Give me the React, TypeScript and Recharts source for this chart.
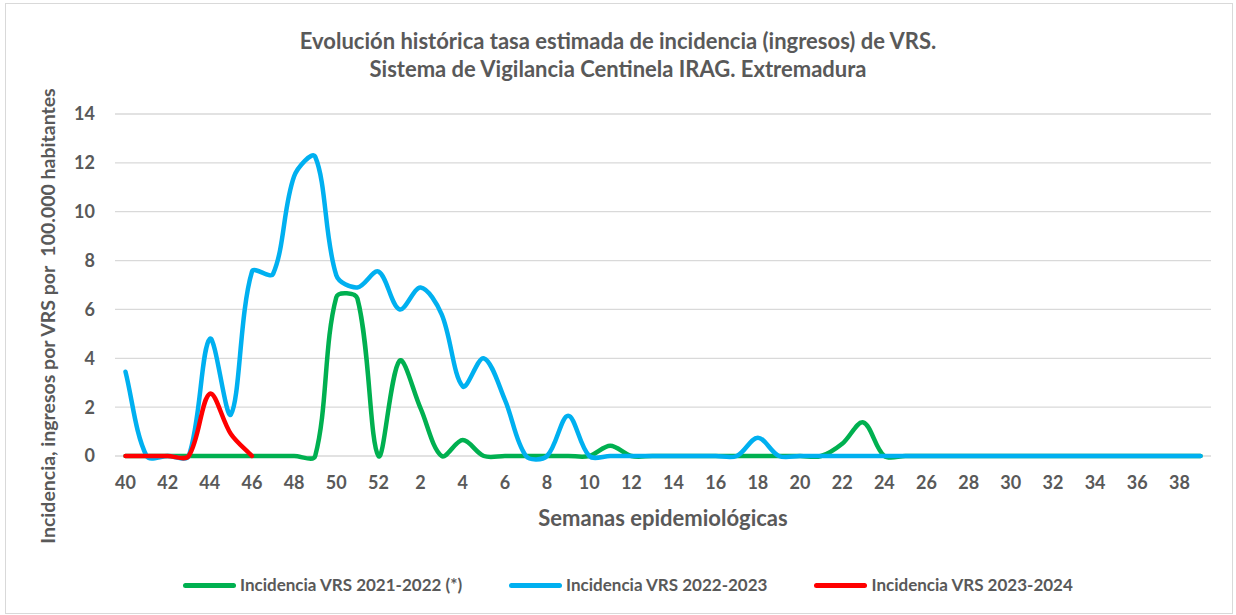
import { CartesianGrid, Line, LineChart, XAxis, YAxis } from "recharts";

const weeks = [
  "40", "41", "42", "43", "44", "45", "46", "47", "48", "49", "50", "51", "52",
  "1", "2", "3", "4", "5", "6", "7", "8", "9", "10", "11", "12", "13", "14", "15",
  "16", "17", "18", "19", "20", "21", "22", "23", "24", "25", "26", "27", "28",
  "29", "30", "31", "32", "33", "34", "35", "36", "37", "38", "39",
];

// Incidencia VRS 2021-2022 (*)
const vrs2122 = [
  0, 0, 0, 0, 0, 0, 0, 0, 0, 0, 6.5, 6.45, 0,
  3.9, 1.95, 0, 0.65, 0, 0, 0, 0, 0, 0, 0.42, 0, 0, 0, 0,
  0, 0, 0, 0, 0, 0, 0.5, 1.38, 0, 0, 0, 0, 0,
  0, 0, 0, 0, 0, 0, 0, 0, 0, 0, 0,
];

// Incidencia VRS 2022-2023
const vrs2223 = [
  3.45, 0, 0, 0, 4.8, 1.7, 7.55, 7.45, 11.45, 12.25, 7.4, 6.9, 7.55,
  6.0, 6.9, 5.8, 2.85, 4.0, 2.3, 0, 0, 1.65, 0, 0, 0, 0, 0, 0,
  0, 0, 0.75, 0, 0, 0, 0, 0, 0, 0, 0, 0, 0,
  0, 0, 0, 0, 0, 0, 0, 0, 0, 0, 0,
];

// Incidencia VRS 2023-2024 (season in progress)
const vrs2324 = [0, 0, 0, 0, 2.55, 0.9, 0];

const yTicks = [0, 2, 4, 6, 8, 10, 12, 14];

const series = [
  { key: "s2122", name: "Incidencia VRS 2021-2022 (*)", color: "#00b050" },
  { key: "s2223", name: "Incidencia VRS 2022-2023", color: "#00b0f0" },
  { key: "s2324", name: "Incidencia VRS 2023-2024", color: "#ff0000" },
];

const data = weeks.map((week, i) => ({
  week,
  s2122: vrs2122[i],
  s2223: vrs2223[i],
  s2324: vrs2324[i] ?? null,
}));

// Excel-like smoothing: bezier through the points, tangents weighted by segment length
const excelCurve = (ctx: any) => {
  let pts: [number, number][] = [];
  const dist = (a: [number, number], b: [number, number]) => Math.hypot(b[0] - a[0], b[1] - a[1]);
  return {
    areaStart() {},
    areaEnd() {},
    lineStart() {
      pts = [];
    },
    point(x: number, y: number) {
      pts.push([+x, +y]);
    },
    lineEnd() {
      if (!pts.length) return;
      ctx.moveTo(pts[0][0], pts[0][1]);
      for (let i = 0; i < pts.length - 1; i++) {
        const p0 = pts[Math.max(i - 1, 0)];
        const p1 = pts[i];
        const p2 = pts[i + 1];
        const p3 = pts[Math.min(i + 2, pts.length - 1)];
        const d01 = dist(p0, p1);
        const d12 = dist(p1, p2);
        const d23 = dist(p2, p3);
        const a = d01 + d12 > 0 ? d12 / (d01 + d12) / 3 : 0;
        const b = d12 + d23 > 0 ? d12 / (d12 + d23) / 3 : 0;
        ctx.bezierCurveTo(
          p1[0] + (p2[0] - p0[0]) * a,
          p1[1] + (p2[1] - p0[1]) * a,
          p2[0] - (p3[0] - p1[0]) * b,
          p2[1] - (p3[1] - p1[1]) * b,
          p2[0],
          p2[1]
        );
      }
    },
  };
};

const font = "Lato, 'Open Sans', sans-serif";
const textColor = "#595959";

const YTitle = (props: any) => {
  const vb = props.viewBox;
  const x = 47;
  const y = vb.y + vb.height / 2 + 31;
  return (
    <text
      x={x}
      y={y}
      transform={`rotate(-90 ${x} ${y})`}
      textAnchor="middle"
      dominantBaseline="central"
      fill={textColor}
      fontSize={19.5}
      fontWeight={700}
      fontFamily={font}
      style={{ whiteSpace: "pre" }}
    >
      {"Incidencia, ingresos por VRS por  100.000 habitantes"}
    </text>
  );
};

export default function App() {
  return (
    <div
      style={{
        position: "absolute",
        left: 0,
        top: 0,
        width: 1236,
        height: 615,
        background: "#fff",
        fontFamily: font,
        color: textColor,
      }}
    >
      <div
        style={{
          position: "absolute",
          left: 5,
          top: 3,
          width: 1226,
          height: 609,
          border: "1px solid #d9d9d9",
        }}
      />
      <div
        style={{
          position: "absolute",
          top: 27,
          width: 1236,
          textAlign: "center",
          fontSize: 22,
          fontWeight: 700,
          lineHeight: "28px",
        }}
      >
        <div>Evolución histórica tasa estimada de incidencia (ingresos) de VRS.</div>
        <div>Sistema de Vigilancia Centinela IRAG. Extremadura</div>
      </div>

      <LineChart
        width={1236}
        height={615}
        data={data}
        margin={{ top: 114, right: 25, bottom: 84, left: 30 }}
        style={{ position: "absolute", left: 0, top: 0 }}
      >
        <CartesianGrid vertical={false} stroke="#d9d9d9" strokeWidth={1.3} />
        <XAxis
          dataKey="week"
          interval={1}
          height={75}
          padding={{ left: 10.5, right: 10.5 }}
          axisLine={false}
          tickLine={false}
          tickSize={0}
          tickMargin={20}
          tick={{ fill: textColor, fontSize: 18, fontWeight: 700, fontFamily: font }}
          label={{
            value: "Semanas epidemiológicas",
            position: "insideBottom",
            offset: 5,
            fill: textColor,
            fontSize: 22,
            fontWeight: 700,
            fontFamily: font,
          }}
        />
        <YAxis
          domain={[0, 14]}
          ticks={yTicks}
          width={85}
          axisLine={false}
          tickLine={false}
          tickSize={0}
          tickMargin={20}
          tick={{ fill: textColor, fontSize: 18, fontWeight: 700, fontFamily: font }}
          label={{ content: YTitle }}
        />
        {series.map((s) => (
          <Line
            key={s.key}
            dataKey={s.key}
            name={s.name}
            type={excelCurve as any}
            stroke={s.color}
            strokeWidth={4.5}
            strokeLinecap="round"
            strokeLinejoin="round"
            dot={false}
            activeDot={false}
            isAnimationActive={false}
          />
        ))}
      </LineChart>

      <div
        style={{
          position: "absolute",
          left: 183,
          top: 573,
          display: "flex",
          gap: 47,
          fontSize: 17,
          fontWeight: 700,
          lineHeight: "24px",
        }}
      >
        {series.map((s) => (
          <div key={s.key} style={{ display: "flex", alignItems: "center" }}>
            <span
              style={{
                display: "inline-block",
                width: 53,
                height: 5,
                borderRadius: 3,
                background: s.color,
                marginRight: 4,
              }}
            />
            <span>{s.name}</span>
          </div>
        ))}
      </div>
    </div>
  );
}
